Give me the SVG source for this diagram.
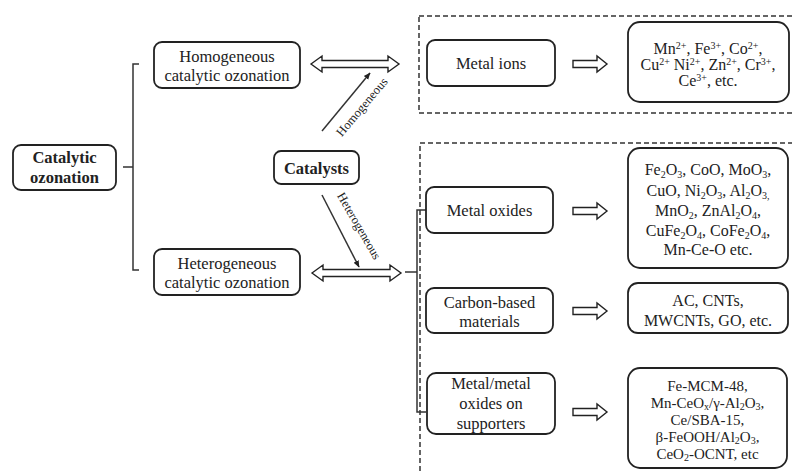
<svg xmlns="http://www.w3.org/2000/svg" width="792" height="474" viewBox="0 0 792 474">
<style>
.box{fill:#fff;stroke:#222;stroke-width:1.8}
.t{font-family:"Liberation Serif","Times New Roman",serif;font-size:16.5px;fill:#222;text-anchor:middle}
.l{font-family:"Liberation Serif","Times New Roman",serif;font-size:16px;fill:#222;text-anchor:middle}
.s{font-size:15px}
.b{font-weight:bold}
.lab{font-family:"Liberation Serif","Times New Roman",serif;font-size:12.5px;fill:#222;text-anchor:middle}
.ln{fill:none;stroke:#333;stroke-width:1.5}
.dash{fill:none;stroke:#333;stroke-width:1.5;stroke-dasharray:5 3}
.hol{fill:#fff;stroke:#222;stroke-width:1.4;stroke-linejoin:miter}
.sup{font-size:10px;baseline-shift:5px}
.sub{font-size:10px;baseline-shift:-3px}
.sub2{font-size:10px;baseline-shift:-2px}
</style>
<defs>
<marker id="ah" viewBox="0 0 10 10" refX="9" refY="5" markerWidth="7" markerHeight="7" orient="auto" markerUnits="userSpaceOnUse">
<path d="M0,1 L10,5 L0,9 Z" fill="#222"/>
</marker>
<path id="sarrow" d="M0,-3.5 L24,-3.5 L24,-8 L34,0 L24,8 L24,3.5 L0,3.5 Z"/>
</defs>

<g id="dashed-groups">
<rect class="dash" x="419" y="16" width="390" height="97"/>
<rect class="dash" x="420" y="143" width="390" height="350"/>
</g>

<g id="connectors">
<path class="ln" d="M123,167 H133 M139,64 H133 V270 H139"/>
<path class="ln" d="M405,272 H417 M426,210 H417 V412 H426"/>
<path class="hol" d="M311,64 L322,56 L322,60.5 L388,60.5 L388,56 L399,64 L388,72 L388,67.5 L322,67.5 L322,72 Z"/>
<path class="hol" d="M312,273 L323,265 L323,269.5 L390,269.5 L390,265 L401,273 L390,281 L390,276.5 L323,276.5 L323,281 Z"/>
<line class="ln" x1="322" y1="131" x2="370" y2="73" marker-end="url(#ah)"/>
<line class="ln" x1="322" y1="195" x2="359" y2="267" marker-end="url(#ah)"/>
<use href="#sarrow" class="hol" x="573" y="64"/>
<use href="#sarrow" class="hol" x="573" y="211"/>
<use href="#sarrow" class="hol" x="573" y="311"/>
<use href="#sarrow" class="hol" x="573" y="412"/>
<text class="lab" transform="translate(362,107) rotate(-50)" y="4">Homogeneous</text>
<text class="lab" transform="translate(359,226) rotate(60)" y="4">Heterogeneous</text>
</g>

<g id="catalytic-ozonation">
<rect class="box" x="13" y="145" width="103" height="45" rx="8"/>
<text class="t b" x="64.5" y="163">Catalytic</text>
<text class="t b" x="64.5" y="183">ozonation</text>
</g>

<g id="homogeneous">
<rect class="box" x="154" y="42" width="146" height="46" rx="8"/>
<text class="t" x="227" y="62">Homogeneous</text>
<text class="t" x="227" y="81">catalytic ozonation</text>
</g>

<g id="heterogeneous">
<rect class="box" x="154" y="249" width="146" height="46" rx="8"/>
<text class="t" x="227" y="269">Heterogeneous</text>
<text class="t" x="227" y="288">catalytic ozonation</text>
</g>

<g id="catalysts">
<rect class="box" x="274" y="151" width="85" height="33" rx="7"/>
<text class="t b" x="316.5" y="174">Catalysts</text>
</g>

<g id="metal-ions">
<rect class="box" x="427" y="40" width="128" height="46" rx="8"/>
<text class="t" x="491" y="69">Metal ions</text>
</g>

<g id="metal-ions-list">
<rect class="box" x="628" y="22" width="161" height="80" rx="12"/>
<text class="l" x="708" y="54">Mn<tspan class="sup">2+</tspan>, Fe<tspan class="sup">3+</tspan>, Co<tspan class="sup">2+</tspan>,</text>
<text class="l" x="708" y="70">Cu<tspan class="sup">2+</tspan> Ni<tspan class="sup">2+</tspan>, Zn<tspan class="sup">2+</tspan>, Cr<tspan class="sup">3+</tspan>,</text>
<text class="l" x="708" y="86">Ce<tspan class="sup">3+</tspan>, etc.</text>
</g>

<g id="metal-oxides">
<rect class="box" x="426" y="187" width="127" height="46" rx="8"/>
<text class="t" x="489.5" y="216">Metal oxides</text>
</g>

<g id="metal-oxides-list">
<rect class="box" x="628" y="148" width="160" height="120" rx="12"/>
<text class="l" x="708" y="175">Fe<tspan class="sub">2</tspan>O<tspan class="sub">3</tspan>, CoO, MoO<tspan class="sub">3</tspan>,</text>
<text class="l" x="708" y="196">CuO, Ni<tspan class="sub">2</tspan>O<tspan class="sub">3</tspan>, Al<tspan class="sub">2</tspan>O<tspan class="sub">3,</tspan></text>
<text class="l" x="708" y="216">MnO<tspan class="sub">2</tspan>, ZnAl<tspan class="sub">2</tspan>O<tspan class="sub">4</tspan>,</text>
<text class="l" x="708" y="236">CuFe<tspan class="sub">2</tspan>O<tspan class="sub">4</tspan>, CoFe<tspan class="sub">2</tspan>O<tspan class="sub">4</tspan>,</text>
<text class="l" x="708" y="255">Mn-Ce-O etc.</text>
</g>

<g id="carbon-based">
<rect class="box" x="426" y="288" width="127" height="45" rx="8"/>
<text class="t" x="489.5" y="308">Carbon-based</text>
<text class="t" x="489.5" y="327">materials</text>
</g>

<g id="carbon-list">
<rect class="box" x="628" y="283" width="160" height="50" rx="10"/>
<text class="l" x="708" y="306">AC, CNTs,</text>
<text class="l" x="708" y="326">MWCNTs, GO, etc.</text>
</g>

<g id="supported">
<rect class="box" x="427" y="373" width="128" height="61" rx="9"/>
<text class="t" x="491" y="389">Metal/metal</text>
<text class="t" x="491" y="409">oxides on</text>
<text class="t" x="491" y="429">supporters</text>
</g>

<g id="supported-list">
<rect class="box" x="628" y="368" width="159" height="100" rx="12"/>
<text class="l s" x="707.5" y="391">Fe-MCM-48,</text>
<text class="l s" x="707.5" y="408">Mn-CeO<tspan class="sub2">x</tspan>/γ-Al<tspan class="sub2">2</tspan>O<tspan class="sub2">3</tspan>,</text>
<text class="l s" x="707.5" y="425">Ce/SBA-15,</text>
<text class="l s" x="707.5" y="442">β-FeOOH/Al<tspan class="sub2">2</tspan>O<tspan class="sub2">3</tspan>,</text>
<text class="l s" x="707.5" y="459">CeO<tspan class="sub2">2</tspan>-OCNT, etc</text>
</g>
</svg>
